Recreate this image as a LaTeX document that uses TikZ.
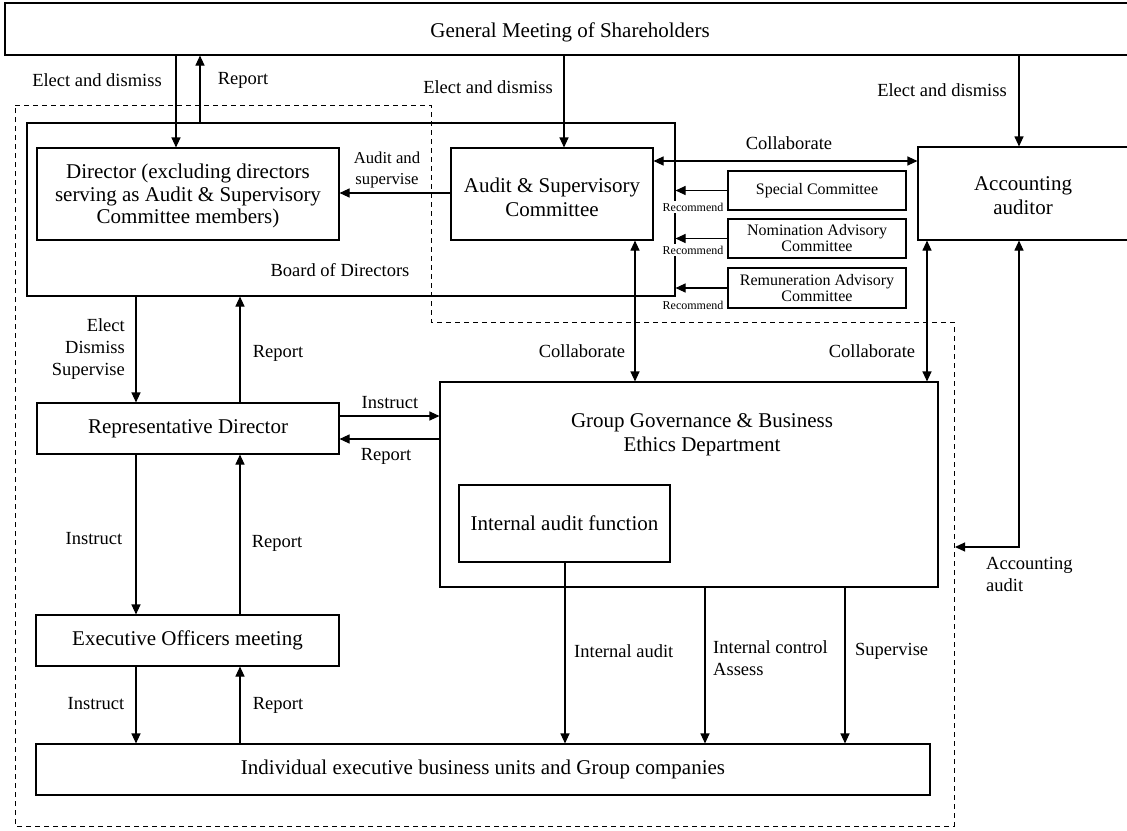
\documentclass[tikz,border=0pt]{standalone}
\usepackage{fontspec}
\setmainfont{Liberation Serif}
\usetikzlibrary{arrows.meta}
\tikzset{
  frame/.style={draw, line width=1.1pt, inner sep=0pt},
  box/.style={frame, align=center, font=\fontsize{21}{24}\selectfont},
  cbox/.style={frame, align=center, font=\fontsize{16}{16}\selectfont},
  boxtext/.style={inner sep=0pt, align=center, font=\fontsize{21}{24}\selectfont},
  arr/.style={line width=1.1pt, -{Triangle[length=10pt,width=9pt]}},
  darr/.style={line width=1.1pt, {Triangle[length=10pt,width=9pt]}-{Triangle[length=10pt,width=9pt]}},
  lbl/.style={font=\fontsize{18.5}{22}\selectfont, inner sep=0pt, align=center},
  small/.style={font=\fontsize{16.7}{21}\selectfont, inner sep=0pt, align=center},
  rec/.style={font=\fontsize{12}{12}\selectfont, inner sep=1.5pt, fill=white},
  zone/.style={dashed, line width=0.9pt, dash pattern=on 5pt off 4pt},
}
\begin{document}
\begin{tikzpicture}[x=1pt, y=-1pt]
\useasboundingbox (0,0) rectangle (1127,830);

% governance zone (dashed outline)
\draw[zone] (15,105) -- (431,105) -- (431,322) -- (954,322) -- (954,826) -- (15,826) -- cycle;

% boxes
\node[frame, minimum width=1125, minimum height=52] (gm) at (567.5,29) {};
\node[boxtext] (gm-title) at (570,32) {General Meeting of Shareholders};
\node[frame, minimum width=648, minimum height=173] (board) at (351,209.5) {};
\node[lbl] (board-lbl) at (340,270) {Board of Directors};
\node[frame, minimum width=302, minimum height=92] (dir) at (188,194) {};
\node[boxtext, font=\fontsize{21}{22.5}\selectfont] (dir-title) at (188,196)
  {Director (excluding directors\\serving as Audit \& Supervisory\\Committee members)};
\node[frame, minimum width=202, minimum height=92] (asc) at (552,194) {};
\node[boxtext] (asc-title) at (552,197) {Audit \& Supervisory\\Committee};
\node[frame, minimum width=212, minimum height=93] (aa) at (1024,193.5) {};
\node[boxtext] (aa-title) at (1023,196) {Accounting\\auditor};
\node[cbox, minimum width=178, minimum height=39] (spc) at (817,190.5) {Special Committee};
\node[cbox, minimum width=178, minimum height=39] (nom) at (817,238.5) {Nomination Advisory\\Committee};
\node[cbox, minimum width=178, minimum height=40] (rem) at (817,288) {Remuneration Advisory\\Committee};
\node[box, minimum width=302, minimum height=51] (rd) at (188,428.5) {Representative Director};
\node[frame, minimum width=498, minimum height=205] (ggbe) at (689,484.5) {};
\node[boxtext] (ggbe-title) at (702,435) {Group Governance \& Business\\Ethics Department};
\node[box, minimum width=211, minimum height=77] (iaf) at (564.5,523.5) {Internal audit function};
\node[box, minimum width=303, minimum height=51] (eom) at (187.5,640.5) {Executive Officers meeting};
\node[box, minimum width=894, minimum height=51] (iebu) at (483,769.5) {Individual executive business units and Group companies};

% column and row references for connectors
\coordinate (x136) at (136,0);
\coordinate (x176) at (176,0);
\coordinate (x200) at (200,0);
\coordinate (x240) at (240,0);
\coordinate (x564) at (564,0);
\coordinate (x565) at (565,0);
\coordinate (x635) at (635,0);
\coordinate (x705) at (705,0);
\coordinate (x845) at (845,0);
\coordinate (x927) at (927,0);
\coordinate (x1019) at (1019,0);
\coordinate (y161) at (0,161);
\coordinate (y193) at (0,193);
\coordinate (y416) at (0,416);
\coordinate (y439) at (0,439);
\coordinate (audit-end) at (955,547);

% shareholders and the board
\draw[arr] (gm.south -| x176) -- (dir.north -| x176);
\node[lbl] (l-ed1) at (97,80) {Elect and dismiss};
\draw[arr] (board.north -| x200) -- (gm.south -| x200);
\node[lbl] (l-rep1) at (243,80) {Report};
\draw[arr] (gm.south -| x564) -- (asc.north -| x564);
\node[lbl] (l-ed2) at (488,87) {Elect and dismiss};
\draw[arr] (gm.south -| x1019) -- (aa.north -| x1019);
\node[lbl] (l-ed3) at (942,90) {Elect and dismiss};

% inside the board
\draw[arr] (asc.west |- y193) -- (dir.east |- y193);
\node[small] (l-as) at (387,170) {Audit and\\supervise};
\draw[darr] (asc.east |- y161) -- (aa.west |- y161);
\node[lbl] (l-col1) at (789,143) {Collaborate};

% committees
\draw[arr] (spc.west) -- (board.east |- spc.west);
\draw[arr] (nom.west) -- (board.east |- nom.west);
\draw[arr] (rem.west) -- (board.east |- rem.west);
\node[rec] (r1) at (693,207) {Recommend};
\node[rec] (r2) at (693,250) {Recommend};
\node[rec] (r3) at (693,305) {Recommend};

% board and representative director
\draw[arr] (board.south -| x136) -- (rd.north -| x136);
\node[lbl, align=right, anchor=east] (l-eds) at (125,349) {Elect\\Dismiss\\Supervise};
\draw[arr] (rd.north -| x240) -- (board.south -| x240);
\node[lbl] (l-rep2) at (278,353) {Report};

% representative director and the department
\draw[arr] (rd.east |- y416) -- (ggbe.west |- y416);
\node[lbl] (l-ins1) at (390,403) {Instruct};
\draw[arr] (ggbe.west |- y439) -- (rd.east |- y439);
\node[lbl] (l-rep3) at (386,456) {Report};

% collaboration with the department
\draw[darr] (asc.south -| x635) -- (ggbe.north -| x635);
\node[lbl] (l-col2) at (582,351) {Collaborate};
\draw[darr] (aa.south -| x927) -- (ggbe.north -| x927);
\node[lbl] (l-col3) at (872,351) {Collaborate};

% accounting audit
\draw[darr] (audit-end) -- (x1019 |- audit-end) -- (aa.south -| x1019);
\node[lbl, align=left, anchor=north west] (l-aud) at (986,557) {Accounting\\audit};

% executive line
\draw[arr] (rd.south -| x136) -- (eom.north -| x136);
\node[lbl] (l-ins2) at (94,539) {Instruct};
\draw[arr] (eom.north -| x240) -- (rd.south -| x240);
\node[lbl] (l-rep4) at (277,543) {Report};
\draw[arr] (eom.south -| x136) -- (iebu.north -| x136);
\node[lbl] (l-ins3) at (96,704) {Instruct};
\draw[arr] (iebu.north -| x240) -- (eom.south -| x240);
\node[lbl] (l-rep5) at (278,705) {Report};

% audit and control lines
\draw[arr] (iaf.south -| x565) -- (iebu.north -| x565);
\node[lbl, anchor=west] (l-ia) at (574,651) {Internal audit};
\draw[arr] (ggbe.south -| x705) -- (iebu.north -| x705);
\node[lbl, align=left, anchor=north west] (l-ic) at (713,640) {Internal control\\Assess};
\draw[arr] (ggbe.south -| x845) -- (iebu.north -| x845);
\node[lbl, anchor=west] (l-sup) at (855,651) {Supervise};
\end{tikzpicture}
\end{document}
